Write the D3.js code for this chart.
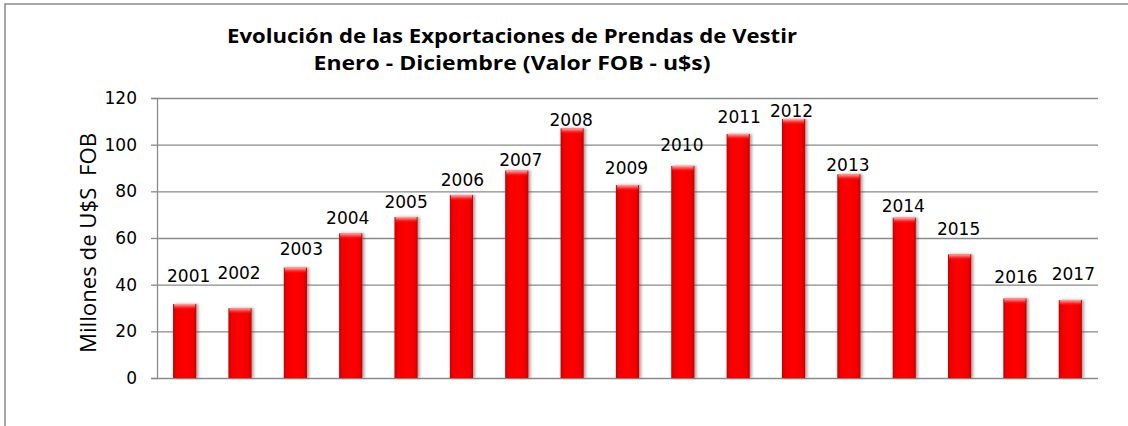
<!DOCTYPE html>
<html lang="es">
<head>
  <meta charset="UTF-8">
  <title>Exportaciones de Prendas de Vestir</title>
  <script src="https://cdn.jsdelivr.net/npm/d3@7/dist/d3.min.js"></script>
  <style>
    body { margin: 0; background: #fff; }
    .chart svg { display: block; background: #fff; }
  </style>
</head>
<body>
<div class="chart"></div>
<script>
  // datos
  const years = ['2001','2002','2003','2004','2005','2006','2007','2008','2009',
                 '2010','2011','2012','2013','2014','2015','2016','2017'];
  const values = [31.7, 29.9, 47.3, 62.0, 69.0, 78.4, 88.9, 107.0, 82.7,
                  90.9, 104.6, 111.0, 87.3, 68.7, 53.0, 34.1, 33.4];
  const yTicks = [0, 20, 40, 60, 80, 100, 120];
  const titleLines = ['Evolución de las Exportaciones de Prendas de Vestir',
                      'Enero - Diciembre (Valor FOB - u$s)'];
  const yTitle = 'Millones de U$S\u00a0\u00a0FOB';

  // layout: labels were hand-placed in the original, so keep their nudges here
  const labelDx    = [4, -1, 6, -3, 0, 1, 4, -1, -1, -1, 1, -2, -1, -1, -1, 1, 3];
  const labelRaise = [22, 29, 13, 9, 9, 9, 5, 2, 11, 15, 11, 2, 3, 6, 19, 15, 20];

  const chart = {
    size: {w: 1128, h: 426},
    plot: {left: 157, right: 1098, top: 98, bottom: 378}
  };

  const svg = d3.select('.chart').append('svg')
    .attr('width', chart.size.w)
    .attr('height', chart.size.h);

  const defs = svg.append('defs');

  const sideGrad = defs.append('linearGradient').attr('id', 'barSide')
    .attr('x1', '0%').attr('x2', '100%').attr('y1', '0%').attr('y2', '0%');
  [['0%', '#c40000'], ['14%', '#f20000'], ['50%', '#ff0000'], ['86%', '#f20000'], ['100%', '#c40000']]
    .forEach(s => sideGrad.append('stop').attr('offset', s[0]).attr('stop-color', s[1]));

  const topGrad = defs.append('linearGradient').attr('id', 'barTop')
    .attr('x1', '0%').attr('x2', '0%').attr('y1', '0%').attr('y2', '100%');
  [['0%', '#ffb0b0', 1], ['40%', '#ff6060', 0.8], ['100%', '#ff0000', 0]]
    .forEach(s => topGrad.append('stop').attr('offset', s[0]).attr('stop-color', s[1]).attr('stop-opacity', s[2]));

  const shadow = defs.append('filter').attr('id', 'shadow')
    .attr('x', '-30%').attr('y', '-10%').attr('width', '170%').attr('height', '130%');
  shadow.append('feGaussianBlur').attr('in', 'SourceAlpha').attr('stdDeviation', 1.6).attr('result', 'b');
  shadow.append('feOffset').attr('in', 'b').attr('dx', 2).attr('dy', 0).attr('result', 'o');
  shadow.append('feFlood').attr('flood-color', '#555').attr('flood-opacity', 0.55);
  shadow.append('feComposite').attr('in2', 'o').attr('operator', 'in').attr('result', 's');
  const merge = shadow.append('feMerge');
  merge.append('feMergeNode').attr('in', 's');
  merge.append('feMergeNode').attr('in', 'SourceGraphic');

  // marco
  svg.append('rect')
    .attr('x', 5).attr('y', 4)
    .attr('width', 1140).attr('height', 440)
    .attr('fill', 'none').attr('stroke', '#8a8a8a').attr('stroke-width', 1.5);

  const x = d3.scaleBand().domain(years)
    .range([chart.plot.left, chart.plot.right]).padding(0);
  const y = d3.scaleLinear().domain([0, 120])
    .range([chart.plot.bottom, chart.plot.top]);
  const barW = x.bandwidth() * 0.42;

  // grilla
  svg.append('g')
    .attr('transform', `translate(${chart.plot.left},0)`)
    .call(d3.axisLeft(y).tickValues(yTicks).tickSize(-(chart.plot.right - chart.plot.left)).tickFormat(''))
    .call(g => g.select('.domain').remove())
    .call(g => g.selectAll('line').attr('stroke', '#8a8a8a').attr('stroke-width', 1.3));

  // eje y
  svg.append('g')
    .attr('transform', `translate(${chart.plot.left},0)`)
    .call(d3.axisLeft(y).tickValues(yTicks).tickSize(6).tickPadding(14))
    .call(g => g.select('.domain').attr('stroke', '#8a8a8a').attr('stroke-width', 1.3))
    .call(g => g.selectAll('line').attr('stroke', '#8a8a8a').attr('stroke-width', 1.3))
    .call(g => g.selectAll('text')
      .attr('fill', '#000')
      .style('font-family', '"DejaVu Sans", Verdana, sans-serif')
      .style('font-size', '17px'));

  // barras
  const bars = svg.append('g').attr('filter', 'url(#shadow)');
  bars.selectAll('rect.bar')
    .data(values)
    .join('rect')
    .attr('class', 'bar')
    .attr('x', (d, i) => x(years[i]) + (x.bandwidth() - barW) / 2)
    .attr('y', d => y(d))
    .attr('width', barW)
    .attr('height', d => y(0) - y(d))
    .attr('fill', 'url(#barSide)');

  svg.append('g').selectAll('rect')
    .data(values)
    .join('rect')
    .attr('x', (d, i) => x(years[i]) + (x.bandwidth() - barW) / 2 + 1)
    .attr('y', d => y(d))
    .attr('width', barW - 2)
    .attr('height', 6)
    .attr('fill', 'url(#barTop)');

  // etiquetas de años
  svg.append('g').selectAll('text')
    .data(values)
    .join('text')
    .attr('x', (d, i) => x(years[i]) + x.bandwidth() / 2 + labelDx[i])
    .attr('y', (d, i) => y(d) - labelRaise[i])
    .attr('text-anchor', 'middle')
    .style('font-family', '"DejaVu Sans", Verdana, sans-serif')
    .style('font-size', '17px')
    .attr('fill', '#000')
    .text((d, i) => years[i]);

  // título
  const titleW = [570, 397];
  svg.append('g').selectAll('text')
    .data(titleLines)
    .join('text')
    .attr('x', 512)
    .attr('y', (d, i) => 43 + i * 27)
    .attr('text-anchor', 'middle')
    .attr('textLength', (d, i) => titleW[i])
    .attr('lengthAdjust', 'spacingAndGlyphs')
    .style('font-family', '"Open Sans", "Noto Sans", sans-serif')
    .style('font-weight', 'bold')
    .style('font-size', '20px')
    .text(d => d);

  // título eje y
  svg.append('text')
    .attr('transform', 'translate(96,243) rotate(-90)')
    .attr('text-anchor', 'middle')
    .attr('textLength', 220)
    .attr('lengthAdjust', 'spacingAndGlyphs')
    .style('font-family', '"Open Sans", "Noto Sans", sans-serif')
    .style('font-size', '21px')
    .text(yTitle);
</script>
</body>
</html>
